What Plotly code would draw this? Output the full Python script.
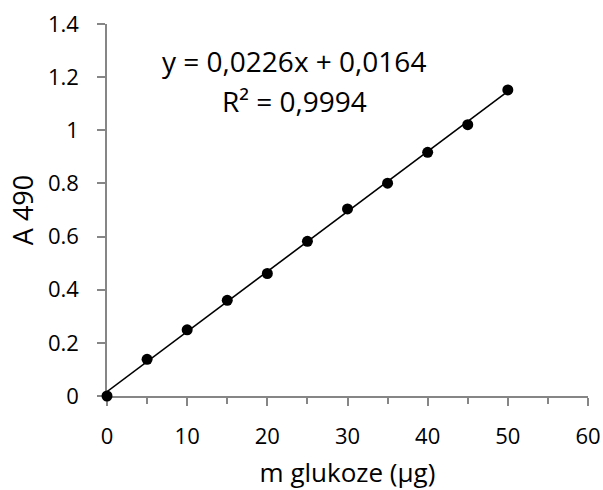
import plotly.graph_objects as go

# data
mass_ug = [0, 5, 10, 15, 20, 25, 30, 35, 40, 45, 50]
absorbance = [0.0, 0.138, 0.249, 0.360, 0.461, 0.582, 0.704, 0.801, 0.917, 1.021, 1.152]
slope = 0.0226
intercept = 0.0164
eq_text = "y = 0,0226x + 0,0164"
r2_text = "R² = 0,9994"
x_ticks = [0, 10, 20, 30, 40, 50, 60]
y_ticks = [0, 0.2, 0.4, 0.6, 0.8, 1.0, 1.2, 1.4]
y_tick_labels = ["0", "0.2", "0.4", "0.6", "0.8", "1", "1.2", "1.4"]

FONT = "Open Sans"
AXIS_COLOR = "#868686"

fit_x = [min(mass_ug), max(mass_ug)]
fit_y = [slope * v + intercept for v in fit_x]

fig = go.Figure()
fig.add_trace(go.Scatter(x=fit_x, y=fit_y, mode="lines",
                         line=dict(color="black", width=1.6),
                         hoverinfo="skip", showlegend=False, cliponaxis=False))
fig.add_trace(go.Scatter(x=mass_ug, y=absorbance, mode="markers",
                         marker=dict(color="black", size=11),
                         showlegend=False, cliponaxis=False))

fig.add_annotation(x=23.3, y=1.26, text=eq_text, showarrow=False,
                   xanchor="center", yanchor="middle",
                   font=dict(family=FONT, size=28, color="black"))
fig.add_annotation(x=23.4, y=1.112, text=r2_text, showarrow=False,
                   xanchor="center", yanchor="middle",
                   font=dict(family=FONT, size=28, color="black"))

fig.update_layout(
    width=603, height=490,
    margin=dict(l=107, r=15, t=24, b=94),
    plot_bgcolor="white", paper_bgcolor="white",
    font=dict(family=FONT, color="black"),
)
fig.update_xaxes(
    range=[0, 60], tickvals=x_ticks, ticks="outside", ticklen=8, tickwidth=1.5,
    tickcolor=AXIS_COLOR, showline=True, linecolor=AXIS_COLOR, linewidth=1.5,
    showgrid=False, zeroline=False, ticklabelstandoff=12, layer="below traces",
    automargin=False,
    tickfont=dict(family=FONT, size=22, color="black"),
    minor=dict(dtick=5, ticks="outside", ticklen=6, tickwidth=1.5, tickcolor=AXIS_COLOR, showgrid=False),
    title=dict(text="m glukoze (µg)", font=dict(family=FONT, size=26, color="black"), standoff=16),
)
fig.update_yaxes(
    range=[0, 1.4], tickvals=y_ticks, ticktext=y_tick_labels, ticks="outside", ticklen=8,
    tickwidth=1.5, tickcolor=AXIS_COLOR, showline=True, linecolor=AXIS_COLOR, linewidth=1.5,
    showgrid=False, zeroline=False, ticklabelstandoff=14, layer="below traces",
    automargin=False,
    tickfont=dict(family=FONT, size=22, color="black"),
    title=dict(text="A 490", font=dict(family=FONT, size=27, color="black"), standoff=6),
)

fig.write_html("out.html")
